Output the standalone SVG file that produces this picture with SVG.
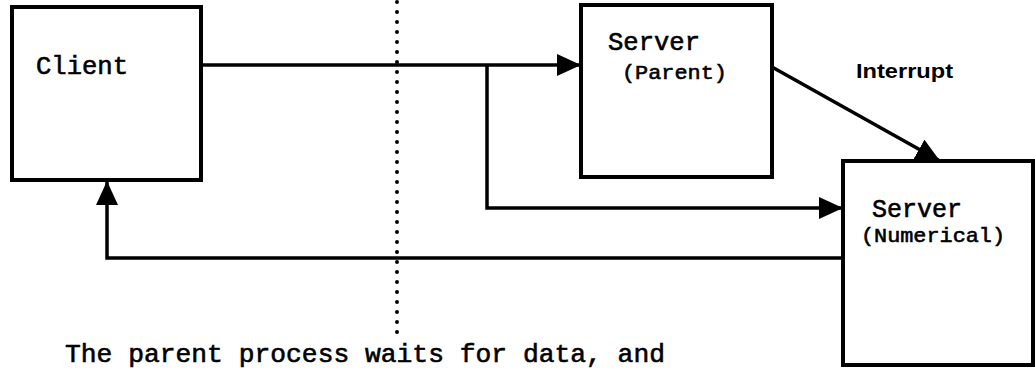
<svg xmlns="http://www.w3.org/2000/svg" width="1035" height="368" viewBox="0 0 1035 368">
  <style>
    .box { fill: #fff; stroke: #000; stroke-width: 4; }
    .mono { font-family: "Liberation Mono", "Courier New", monospace; fill: #000; stroke: #000; stroke-width: 0.6; }
    .big { font-size: 25px; }
    .small { font-size: 21px; }
    .note { font-size: 26px; }
    .sans { font-family: "Liberation Sans", Arial, sans-serif; font-weight: bold; font-size: 20px; fill: #000; }
    .conn { fill: none; stroke: #000; stroke-width: 3.5; stroke-linejoin: miter; }
    .dots { fill: none; stroke: #000; stroke-width: 4; stroke-linecap: round; stroke-dasharray: 0 10; }
  </style>
  <defs>
    <marker id="ah" viewBox="0 0 24 22" refX="24" refY="11" markerWidth="24" markerHeight="22" markerUnits="userSpaceOnUse" orient="auto">
      <path d="M0,0 L24,11 L0,22 z" fill="#000"/>
    </marker>
  </defs>

  <rect width="1035" height="368" fill="#fff"/>

  <g id="divider">
    <line class="dots" x1="397" y1="2" x2="397" y2="337"/>
  </g>

  <g id="connectors">
    <path class="conn" d="M201,65 H581" marker-end="url(#ah)"/>
    <path class="conn" d="M487,65 V208 H843" marker-end="url(#ah)"/>
    <path class="conn" d="M843,258 H107 V181" marker-end="url(#ah)"/>
    <path class="conn" d="M772,67 L940,161" stroke-width="4.5" marker-end="url(#ah)"/>
    <text class="sans" x="856" y="78" textLength="97" lengthAdjust="spacingAndGlyphs">Interrupt</text>
  </g>

  <g id="client">
    <rect class="box" x="12" y="7" width="189" height="173"/>
    <text class="mono big" x="36" y="74" textLength="92" lengthAdjust="spacingAndGlyphs">Client</text>
  </g>

  <g id="server-parent">
    <rect class="box" x="581" y="5" width="191" height="172"/>
    <text class="mono big" x="608" y="50" textLength="92" lengthAdjust="spacingAndGlyphs">Server</text>
    <text class="mono small" x="622" y="79" textLength="105" lengthAdjust="spacingAndGlyphs">(Parent)</text>
  </g>

  <g id="server-numerical">
    <rect class="box" x="843" y="161" width="190" height="204"/>
    <text class="mono big" x="872" y="217" textLength="90" lengthAdjust="spacingAndGlyphs">Server</text>
    <text class="mono small" x="861" y="242" textLength="144" lengthAdjust="spacingAndGlyphs">(Numerical)</text>
  </g>

  <g id="note">
    <text class="mono note" x="65" y="362" textLength="600" lengthAdjust="spacingAndGlyphs">The parent process waits for data, and</text>
  </g>
</svg>
